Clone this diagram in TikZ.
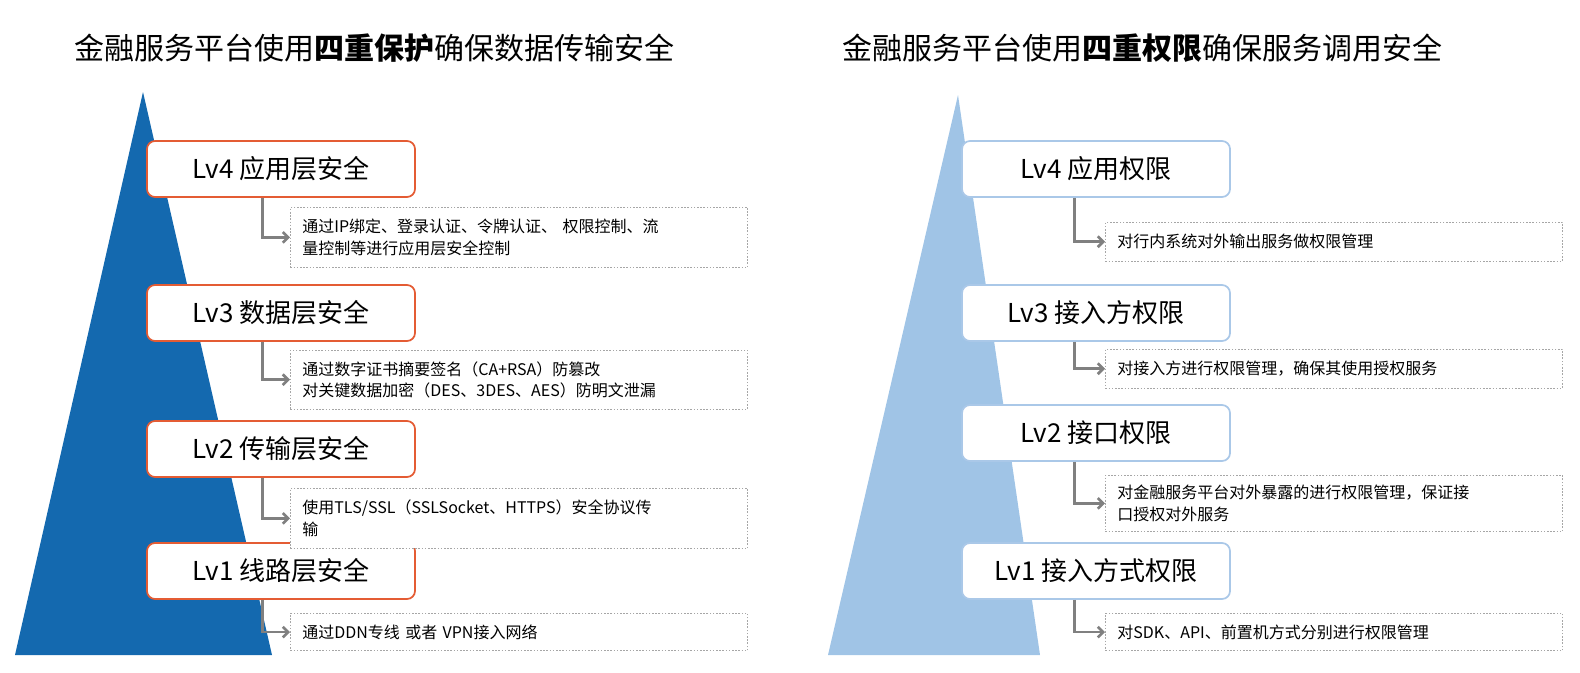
\documentclass[tikz,border=0pt]{standalone}
\usepackage{fontspec}
\setmainfont{Noto Sans CJK SC}
\usepackage{xcolor}
\usetikzlibrary{arrows.meta}
\definecolor{darkblue}{RGB}{20,105,175}
\definecolor{lightblue}{RGB}{160,196,230}
\definecolor{lvorange}{RGB}{228,92,52}
\definecolor{lvblue}{RGB}{170,200,232}
\definecolor{arrowgray}{RGB}{128,128,128}
\tikzset{
  lvbox/.style={draw=#1,line width=1.3pt,rounded corners=6pt,fill=white,minimum width=201pt,minimum height=42pt,inner sep=0pt,font=\fontsize{19.5}{22}\selectfont},
  descbox/.style={draw=gray!70,dash pattern=on 1.2pt off 1.2pt,line width=0.6pt,fill=white,minimum width=339pt,anchor=north west,align=left,text width=325pt,inner xsep=9pt,font=\fontsize{12}{16}\selectfont},
  lvarrow/.style={draw=arrowgray,line width=2pt,-{Straight Barb[length=4pt,width=8pt]}},
  title/.style={anchor=west,font=\fontsize{22.5}{26}\selectfont}
}
\begin{document}
\begin{tikzpicture}[x=0.75pt,y=0.75pt,yscale=-1,xscale=1]
    \useasboundingbox (0,0) rectangle (1580,672);
    % titles
    \node[title] (t1) at (70,48) {金融服务平台使用\textbf{四重保护}确保数据传输安全};
    \node[title] (t2) at (838,48) {金融服务平台使用\textbf{四重权限}确保服务调用安全};
    % pyramids
    \fill[darkblue] (143,92) -- (272,655) -- (15,655) -- cycle;
    \fill[lightblue] (958,95) -- (1040,655) -- (828,655) -- cycle;
    % left side
    \node[lvbox=lvorange] (l4) at (281,169) {Lv4 应用层安全};
    \node[lvbox=lvorange] (l3) at (281,313) {Lv3 数据层安全};
    \node[lvbox=lvorange] (l2) at (281,449) {Lv2 传输层安全};
    \node[lvbox=lvorange] (l1) at (281,571) {Lv1 线路层安全};
    \node[descbox,minimum height=45pt] (d4) at (290,207) {通过IP绑定、登录认证、令牌认证、 权限控制、流\\量控制等进行应用层安全控制};
    \node[descbox,minimum height=44pt] (d3) at (290,350) {通过数字证书摘要签名（CA+RSA）防篡改\\对关键数据加密（DES、3DES、AES）防明文泄漏};
    \node[descbox,minimum height=45pt] (d2) at (290,488) {使用TLS/SSL（SSLSocket、HTTPS）安全协议传\\输};
    \node[descbox,minimum height=28pt] (d1) at (290,613) {通过DDN专线 或者 VPN接入网络};
    \foreach \a/\b in {l4/d4,l3/d3,l2/d2,l1/d1}
      \draw[lvarrow] ([xshift=-14pt]\a.south) |- (\b.west);
    % right side
    \node[lvbox=lvblue] (r4) at (1096,169) {Lv4 应用权限};
    \node[lvbox=lvblue] (r3) at (1096,313) {Lv3 接入方权限};
    \node[lvbox=lvblue] (r2) at (1096,433) {Lv2 接口权限};
    \node[lvbox=lvblue] (r1) at (1096,571) {Lv1 接入方式权限};
    \node[descbox,minimum height=29pt] (e4) at (1105,222) {对行内系统对外输出服务做权限管理};
    \node[descbox,minimum height=29pt] (e3) at (1105,349) {对接入方进行权限管理，确保其使用授权服务};
    \node[descbox,minimum height=42pt] (e2) at (1105,475) {对金融服务平台对外暴露的进行权限管理，保证接\\口授权对外服务};
    \node[descbox,minimum height=28pt] (e1) at (1105,613) {对SDK、API、前置机方式分别进行权限管理};
    \foreach \a/\b in {r4/e4,r3/e3,r2/e2,r1/e1}
      \draw[lvarrow] ([xshift=-16pt]\a.south) |- (\b.west);
\end{tikzpicture}
\end{document}
